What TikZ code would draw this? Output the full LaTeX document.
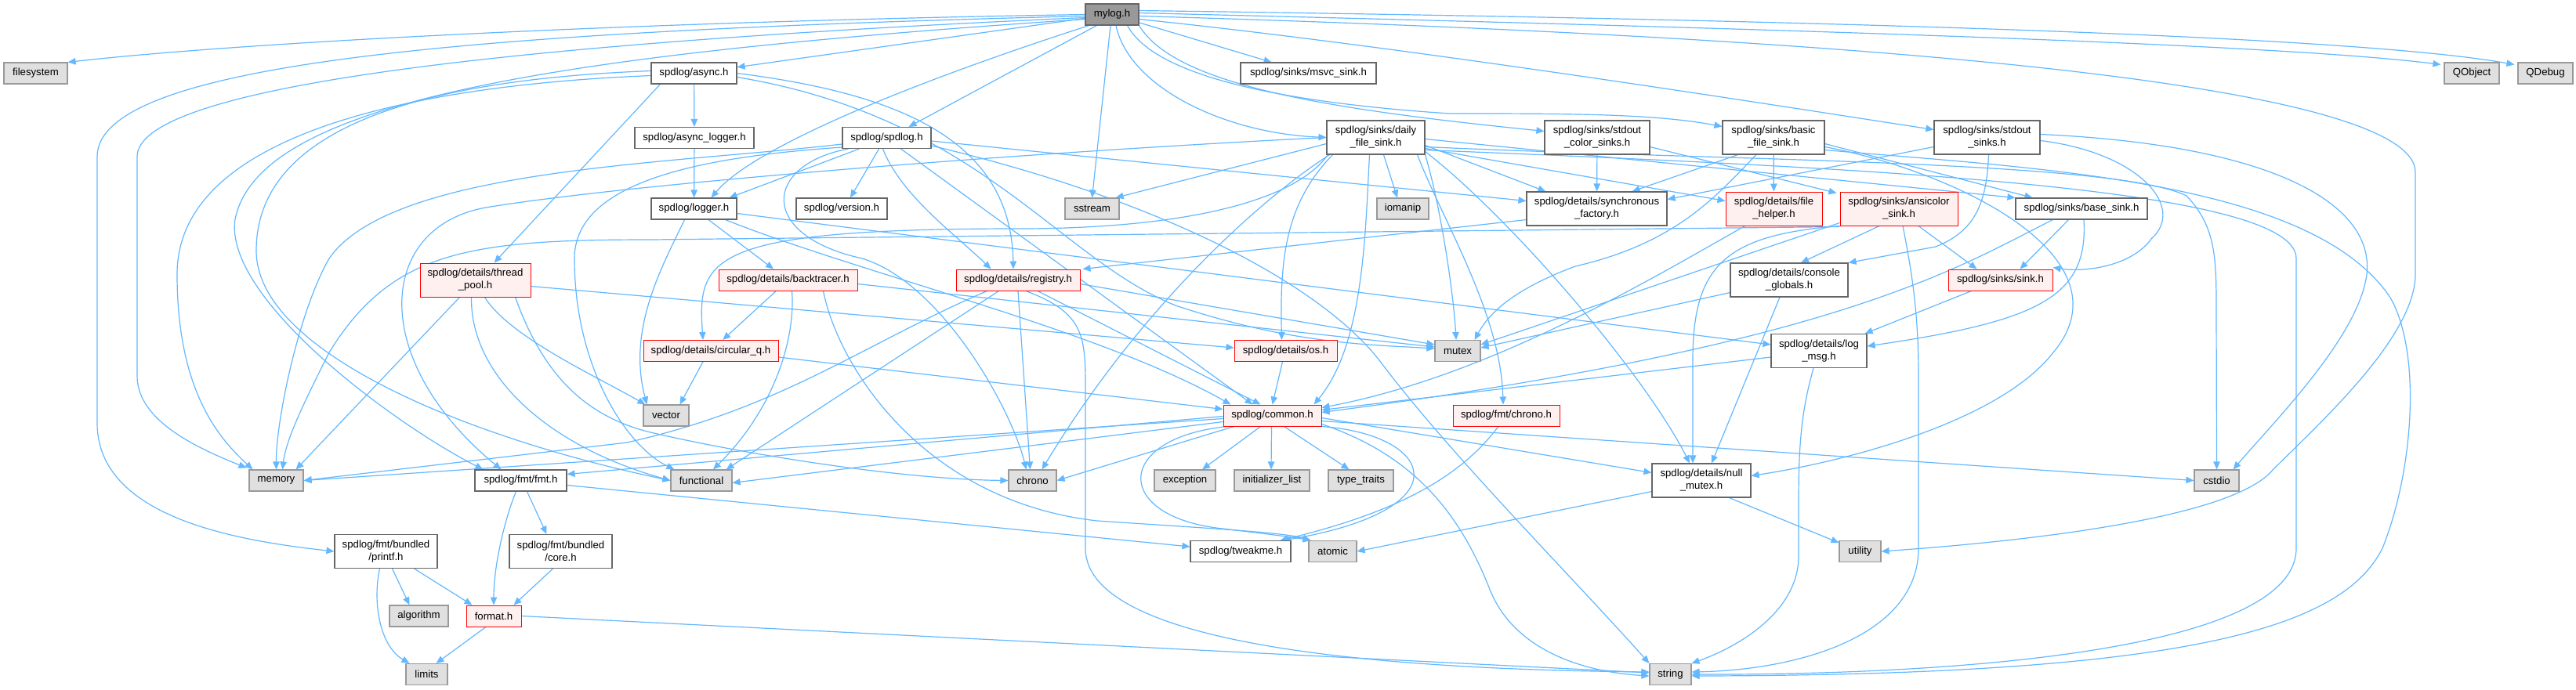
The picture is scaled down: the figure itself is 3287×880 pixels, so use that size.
\documentclass[tikz,border=0pt]{standalone}
\usepackage{fontspec}
\setmainfont{Liberation Sans}
\usetikzlibrary{arrows.meta,calc}
\definecolor{edgec}{HTML}{63B8FF}
\definecolor{sysfill}{HTML}{E0E0E0}
\definecolor{sysdraw}{HTML}{999999}
\definecolor{filegray}{HTML}{666666}
\definecolor{redfill}{HTML}{FFF0F0}
\definecolor{reddraw}{HTML}{FF0000}
\definecolor{rootfill}{HTML}{999999}
\newcommand{\dxfont}{\fontsize{6.6pt}{8pt}\selectfont}
\pgfdeclarelayer{bg}
\pgfsetlayers{bg,main}
\begin{document}
\begin{tikzpicture}[x=0.5pt,y=-0.5pt,
  base/.style={rectangle, inner sep=0pt, font=\dxfont, align=center, minimum height=13.5pt, line width=0.55pt, text=black},
  file/.style={base, draw=filegray, fill=white},
  sys/.style={base, draw=sysdraw, fill=sysfill},
  hot/.style={base, draw=reddraw, fill=redfill, line width=0.5pt},
  root/.style={base, draw=filegray, fill=rootfill},
  two/.style={minimum height=21.5pt},
  edg/.style={draw=edgec, line width=0.6pt, -{Triangle[length=5pt,width=4.2pt]}}]
\useasboundingbox (0,0) rectangle (3287,880);
% nodes
\node[root, minimum width=34pt] (mylog) at (1419,18.5) {mylog.h};
\node[sys, minimum width=40.5pt] (filesystem) at (45.5,93.5) {filesystem};
\node[file, minimum width=54.5pt] (async) at (885.5,93.5) {spdlog/async.h};
\node[file, minimum width=86.5pt] (msvc) at (1669.5,93.5) {spdlog/sinks/msvc\_sink.h};
\node[sys, minimum width=35pt] (QObject) at (3154,93.5) {QObject};
\node[sys, minimum width=35pt] (QDebug) at (3248,93.5) {QDebug};
\node[file, minimum width=76pt] (asynclogger) at (886,176) {spdlog/async\_logger.h};
\node[file, minimum width=56.5pt] (spdlog) at (1131.5,176) {spdlog/spdlog.h};
\node[file, two, minimum width=62.5pt] (daily) at (1755.5,175.5) {spdlog/sinks/daily\\\_file\_sink.h};
\node[file, two, minimum width=67pt] (stdoutcolor) at (2038,175.5) {spdlog/sinks/stdout\\\_color\_sinks.h};
\node[file, two, minimum width=65pt] (basic) at (2263,175.5) {spdlog/sinks/basic\\\_file\_sink.h};
\node[file, two, minimum width=67.5pt] (stdoutsinks) at (2535.5,175.5) {spdlog/sinks/stdout\\\_sinks.h};
\node[file, minimum width=54.5pt] (logger) at (885.5,266.5) {spdlog/logger.h};
\node[file, minimum width=58pt] (version) at (1074,266.5) {spdlog/version.h};
\node[sys, minimum width=34.5pt] (sstream) at (1393.5,266.5) {sstream};
\node[sys, minimum width=33pt] (iomanip) at (1790,266.5) {iomanip};
\node[file, two, minimum width=89.5pt] (sync) at (2037.5,266.5) {spdlog/details/synchronous\\\_factory.h};
\node[hot, two, minimum width=61.5pt] (filehelper) at (2263.5,266.5) {spdlog/details/file\\\_helper.h};
\node[hot, two, minimum width=75pt] (ansicolor) at (2423,266.5) {spdlog/sinks/ansicolor\\\_sink.h};
\node[file, minimum width=84pt] (basesink) at (2656,266.5) {spdlog/sinks/base\_sink.h};
\node[hot, two, minimum width=70.5pt] (threadpool) at (606.5,357.5) {spdlog/details/thread\\\_pool.h};
\node[hot, minimum width=88.5pt] (backtracer) at (1005.5,357.5) {spdlog/details/backtracer.h};
\node[hot, minimum width=79pt] (registry) at (1299,357.5) {spdlog/details/registry.h};
\node[file, two, minimum width=75pt] (console) at (2283,357.5) {spdlog/details/console\\\_globals.h};
\node[hot, minimum width=66.5pt] (sink) at (2552.5,357.5) {spdlog/sinks/sink.h};
\node[hot, minimum width=86pt] (circular) at (907,448) {spdlog/details/circular\_q.h};
\node[hot, minimum width=65.5pt] (os) at (1640.5,448) {spdlog/details/os.h};
\node[sys, minimum width=29pt] (mutex) at (1860,448) {mutex};
\node[file, two, minimum width=61pt] (logmsg) at (2321,448) {spdlog/details/log\\\_msg.h};
\node[sys, minimum width=29pt] (vector) at (850,530.5) {vector};
\node[hot, minimum width=62.5pt] (common) at (1623.5,530.5) {spdlog/common.h};
\node[hot, minimum width=68pt] (fmtchrono) at (1922,530.5) {spdlog/fmt/chrono.h};
\node[sys, minimum width=34.5pt] (memory) at (352.5,613.5) {memory};
\node[file, minimum width=58.5pt] (fmt) at (664.5,613.5) {spdlog/fmt/fmt.h};
\node[sys, minimum width=39pt] (functional) at (895,613.5) {functional};
\node[sys, minimum width=30.5pt] (chrono) at (1317.5,613.5) {chrono};
\node[sys, minimum width=39pt] (exception) at (1512,613.5) {exception};
\node[sys, minimum width=48pt] (initlist) at (1623,613.5) {initializer\_list};
\node[sys, minimum width=41.5pt] (typetraits) at (1736.5,613.5) {type\_traits};
\node[file, two, minimum width=63pt] (nullmutex) at (2171,613.5) {spdlog/details/null\\\_mutex.h};
\node[sys, minimum width=28.5pt] (cstdio) at (2828.5,613.5) {cstdio};
\node[file, two, minimum width=65.5pt] (printf) at (492.5,704) {spdlog/fmt/bundled\\/printf.h};
\node[file, two, minimum width=65.5pt] (core) at (715.5,704) {spdlog/fmt/bundled\\/core.h};
\node[file, minimum width=64pt] (tweakme) at (1583,704) {spdlog/tweakme.h};
\node[sys, minimum width=30.5pt] (atomic) at (1700.5,704) {atomic};
\node[sys, minimum width=26.5pt] (utility) at (2373.5,704) {utility};
\node[sys, minimum width=37.5pt] (algorithm) at (534.5,786.5) {algorithm};
\node[hot, minimum width=35pt] (format) at (630,786.5) {format.h};
\node[sys, minimum width=26.5pt] (limits) at (544.5,861) {limits};
\node[sys, minimum width=26.5pt] (string) at (2131.5,861) {string};
\begin{pgfonlayer}{bg}
\fill[white] (0,0) rectangle (3287,880);
% mylog
\draw[edg] (mylog.west) .. controls (800,28) and (300,55) .. (filesystem.north east);
\draw[edg] ($(mylog.west)+(0,2)$) .. controls (600,40) and (124,80) .. (124,200) -- (124,540) .. controls (124,660) and (300,690) .. (printf.west);
\draw[edg] ($(mylog.west)+(0,4)$) .. controls (650,55) and (175,110) .. (175,200) -- (175,480) .. controls (175,540) and (260,575) .. ($(memory.north west)+(-3,-2)$);
\draw[edg] ($(mylog.west)+(0,6)$) .. controls (700,70) and (330,130) .. (300,280) .. controls (285,380) and (500,540) .. ($(fmt.north west)+(11,0)$);
\draw[edg] (mylog) -- (async);
\draw[edg] ($(mylog.south west)+(5,0)$) .. controls (1150,110) and (960,190) .. ($(logger.north)+(22,0)$);
\draw[edg] ($(mylog.south west)+(15,0)$) -- ($(spdlog.north)+(28,0)$);
\draw[edg] ($(mylog.south)+(-2,0)$) -- (sstream.north);
\draw[edg] (mylog) -- (msvc);
\draw[edg] ($(mylog.south)+(5,0)$) .. controls (1440,110) and (1560,170) .. (daily.west);
\draw[edg] ($(mylog.south east)+(-15,0)$) .. controls (1480,110) and (1700,135) .. (1850,145) .. controls (2000,145) and (2110,145) .. ($(basic.west)+(0,-14)$);
\draw[edg] (mylog.south east) .. controls (1500,110) and (1700,140) .. ($(stdoutcolor.west)+(0,-8)$);
\draw[edg] ($(mylog.east)+(0,6)$) .. controls (1800,60) and (2300,140) .. ($(stdoutsinks.west)+(0,-10)$);
\draw[edg] ($(mylog.east)+(0,-2)$) .. controls (2200,35) and (2900,55) .. ($(QObject.north west)+(-4,3)$);
\draw[edg] ($(mylog.east)+(0,-5)$) .. controls (2300,25) and (3000,45) .. ($(QDebug.north west)+(-4,3)$);
\draw[edg] ($(mylog.east)+(0,2)$) .. controls (2300,45) and (3082,100) .. (3082,220) -- (3082,350) .. controls (3082,430) and (2960,540) .. (2900,600) .. controls (2850,660) and (2600,690) .. (utility.east);
% async
\draw[edg] (async) -- (asynclogger);
\draw[edg] (async.east) .. controls (1150,120) and (1290,180) .. ($(registry.north)+(-6,0)$);
\draw[edg] ($(async.south west)+(12,0)$) -- ($(threadpool.north)+(24,0)$);
\draw[edg] ($(async.west)+(0,3)$) .. controls (500,110) and (226,180) .. (226,350) .. controls (226,500) and (280,560) .. ($(memory.north west)+(5,0)$);
\draw[edg] ($(async.west)+(0,-3)$) .. controls (450,105) and (327,200) .. (327,320) .. controls (327,450) and (600,560) .. (functional.west);
\draw[edg] ($(async.east)+(0,5)$) .. controls (1250,150) and (1350,330) .. (1500,390) .. controls (1650,440) and (1750,440) .. ($(mutex.west)+(0,-3)$);
\draw[edg] (asynclogger) -- (logger);
% spdlog
\draw[edg] ($(spdlog.south west)+(22,0)$) -- ($(logger.north east)+(-10,0)$);
\draw[edg] ($(spdlog.south)+(-10,0)$) -- ($(version.north)+(11,0)$);
\draw[edg] ($(spdlog.south)+(-5,0)$) .. controls (1150,250) and (1220,300) .. ($(registry.north west)+(45,0)$);
\draw[edg] ($(spdlog.south)+(18,0)$) -- ($(common.north)+(-25,0)$);
\draw[edg] ($(spdlog.east)+(0,4)$) -- ($(sync.west)+(0,-10)$);
\draw[edg] ($(spdlog.east)+(0,10)$) .. controls (1500,260) and (1690,370) .. (1760,460) .. controls (1850,580) and (2000,730) .. (string.north west);
\draw[edg] ($(spdlog.south west)+(8,0)$) .. controls (975,210) and (965,300) .. (1100,330) .. controls (1200,360) and (1290,520) .. ($(chrono.north)+(-8,0)$);
\draw[edg] ($(spdlog.west)+(0,12)$) .. controls (900,200) and (733,230) .. (733,330) .. controls (733,470) and (800,570) .. ($(functional.north west)+(5,0)$);
\draw[edg] ($(spdlog.west)+(0,8)$) .. controls (850,210) and (500,215) .. (420,330) .. controls (380,400) and (352,540) .. (memory.north);
% logger
\draw[edg] (logger) -- (backtracer);
\draw[edg] ($(logger.south)+(-12,0)$) .. controls (845,340) and (800,420) .. ($(vector.north west)+(5,0)$);
\draw[edg] ($(logger.south east)+(-15,0)$) .. controls (1100,350) and (1400,420) .. ($(common.north west)+(10,0)$);
\draw[edg] ($(logger.east)+(0,6)$) -- ($(logmsg.west)+(0,-8)$);
% backtracer
\draw[edg] (backtracer) -- (circular);
\draw[edg] ($(backtracer.south)+(5,0)$) .. controls (1015,430) and (990,520) .. ($(functional.north)+(15,0)$);
\draw[edg] ($(backtracer.south)+(45,0)$) .. controls (1070,470) and (1180,640) .. (1400,665) .. controls (1550,675) and (1640,680) .. ($(atomic.north west)+(3,0)$);
\draw[edg] ($(backtracer.east)+(0,5)$) -- ($(mutex.west)+(0,-5)$);
% registry
\draw[edg] ($(registry.south)+(25,0)$) -- ($(common.north)+(-15,0)$);
\draw[edg] (registry.south) -- ($(chrono.north)+(-3,0)$);
\draw[edg] ($(registry.south west)+(55,0)$) -- ($(functional.north east)+(-8,0)$);
\draw[edg] ($(registry.south west)+(40,0)$) .. controls (1100,440) and (1000,520) .. (800,565) -- (memory.east);
\draw[edg] ($(registry.south)+(10,0)$) .. controls (1385,400) and (1385,430) .. (1385,500) -- (1385,700) .. controls (1385,830) and (1800,855) .. ($(string.west)+(0,-3)$);
\draw[edg] ($(registry.east)+(0,5)$) -- ($(mutex.west)+(0,-8)$);
% thread pool
\draw[edg] ($(threadpool.east)+(0,8)$) -- ($(os.west)+(0,-4)$);
\draw[edg] ($(threadpool.south)+(-20,0)$) -- ($(memory.north east)+(-10,0)$);
\draw[edg] ($(threadpool.south)+(-5,0)$) .. controls (600,480) and (700,570) .. (functional.west);
\draw[edg] ($(threadpool.south)+(12,0)$) .. controls (650,430) and (760,480) .. ($(vector.north west)+(3,0)$);
\draw[edg] ($(threadpool.south east)+(-20,0)$) .. controls (690,470) and (740,530) .. (830,552) .. controls (950,580) and (1150,612) .. (chrono.west);
% circular, os
\draw[edg] ($(circular.south)+(-10,0)$) -- ($(vector.north east)+(-12,0)$);
\draw[edg] ($(circular.east)+(0,8)$) -- ($(common.west)+(0,-8)$);
\draw[edg] ($(os.south)+(-4,0)$) -- (common.north);
% common
\draw[edg] ($(common.west)+(0,4)$) -- (memory.east);
\draw[edg] ($(common.west)+(0,8)$) -- ($(functional.east)+(0,3)$);
\draw[edg] ($(common.south west)+(14,0)$) -- (chrono.east);
\draw[edg] ($(common.west)+(0,1)$) -- ($(fmt.east)+(0,-8)$);
\draw[edg] ($(common.south)+(-15,0)$) -- ($(exception.north)+(22,0)$);
\draw[edg] ($(common.south)+(-1,0)$) -- ($(initlist.north)+(-1,0)$);
\draw[edg] ($(common.south)+(15,0)$) -- ($(typetraits.north)+(-15,0)$);
\draw[edg] ($(common.south west)+(5,0)$) .. controls (1420,560) and (1420,660) .. (1560,675) .. controls (1620,682) and (1650,686) .. ($(atomic.north west)+(3,0)$);
\draw[edg] (common.south east) .. controls (1830,555) and (1870,650) .. ($(tweakme.north east)+(-10,0)$);
\draw[edg] ($(common.east)+(0,3)$) -- ($(nullmutex.west)+(0,-10)$);
\draw[edg] ($(common.east)+(0,7)$) -- (cstdio.west);
\draw[edg] ($(common.east)+(0,11)$) .. controls (1800,580) and (1860,650) .. (1900,750) .. controls (1930,830) and (2020,858) .. ($(string.west)+(0,2)$);
% fmt family
\draw[edg] ($(fmt.south)+(8,0)$) -- ($(core.north)+(-18,0)$);
\draw[edg] ($(fmt.south)+(-6,0)$) .. controls (645,660) and (630,720) .. (format.north);
\draw[edg] ($(fmt.east)+(0,6)$) -- ($(tweakme.west)+(0,-6)$);
\draw[edg] ($(printf.south)+(8,0)$) -- ($(algorithm.north)+(-12,0)$);
\draw[edg] ($(printf.south east)+(-30,0)$) -- ($(format.north west)+(8,0)$);
\draw[edg] ($(printf.south)+(-8,0)$) .. controls (475,770) and (485,825) .. ($(limits.north west)+(5,0)$);
\draw[edg] ($(core.south)+(-10,0)$) -- ($(format.north east)+(-10,0)$);
\draw[edg] ($(format.south)+(-10,0)$) -- ($(limits.north)+(12,0)$);
\draw[edg] (format.east) -- ($(string.west)+(0,-2)$);
\draw[edg] ($(fmtchrono.south)+(-10,0)$) .. controls (1870,600) and (1800,650) .. ($(tweakme.north east)+(-14,0)$);
% null mutex, log msg
\draw[edg] ($(nullmutex.south west)+(0,-8)$) -- (atomic.east);
\draw[edg] ($(nullmutex.south east)+(-28,0)$) -- ($(utility.north west)+(0,3)$);
\draw[edg] ($(logmsg.west)+(0,8)$) -- ($(common.east)+(0,-7)$);
\draw[edg] ($(logmsg.south)+(-7,0)$) .. controls (2300,520) and (2295,560) .. (2295,640) -- (2295,710) .. controls (2295,780) and (2220,825) .. (string.north east);
% daily
\draw[edg] ($(daily.west)+(0,8)$) -- ($(sstream.north east)+(-5,0)$);
\draw[edg] ($(daily.south)+(10,0)$) -- ($(iomanip.north)+(-7,0)$);
\draw[edg] (daily.west) .. controls (1300,195) and (800,235) .. (620,265) .. controls (480,290) and (470,460) .. ($(fmt.north)+(-25,0)$);
\draw[edg] ($(daily.south)+(-8,0)$) .. controls (1742,300) and (1740,440) .. ($(common.north east)+(-10,0)$);
\draw[edg] ($(daily.south west)+(8,0)$) .. controls (1640,260) and (1633,330) .. ($(os.north)+(-5,0)$);
\draw[edg] ($(daily.south west)+(4,0)$) .. controls (1600,260) and (1450,400) .. ($(chrono.north)+(12,0)$);
\draw[edg] ($(daily.south west)+(2,0)$) .. controls (1650,260) and (1500,292) .. (1300,292) .. controls (900,292) and (890,330) .. ($(circular.north)+(-10,0)$);
\draw[edg] ($(daily.south east)+(-10,0)$) .. controls (1840,280) and (1915,400) .. ($(fmtchrono.north)+(-4,0)$);
\draw[edg] (daily.south east) .. controls (1840,270) and (1855,380) .. ($(mutex.north)+(-2,0)$);
\draw[edg] ($(daily.east)+(0,18)$) .. controls (1930,280) and (2100,480) .. ($(nullmutex.north)+(-15,0)$);
\draw[edg] ($(daily.east)+(0,10)$) -- ($(sync.north west)+(25,0)$);
\draw[edg] ($(daily.east)+(0,14)$) -- ($(filehelper.west)+(0,-10)$);
\draw[edg] ($(daily.east)+(0,2)$) -- (basesink.north west);
\draw[edg] ($(daily.east)+(0,12)$) .. controls (2200,205) and (2700,205) .. (2790,250) .. controls (2828,290) and (2828,330) .. (2828,400) -- (cstdio.north);
\draw[edg] ($(daily.east)+(0,16)$) .. controls (2400,215) and (2930,240) .. (2930,330) -- (2930,700) .. controls (2930,830) and (2500,862) .. (string.east);
% stdout color
\draw[edg] (stdoutcolor) -- (sync);
\draw[edg] ($(stdoutcolor.east)+(0,12)$) -- ($(ansicolor.north west)+(-4,2)$);
% basic
\draw[edg] ($(basic.south west)+(20,0)$) -- ($(sync.north east)+(-45,0)$);
\draw[edg] (basic) -- (filehelper);
\draw[edg] ($(basic.south)+(-22,0)$) .. controls (2190,250) and (2140,310) .. (2010,340) .. controls (1930,370) and (1900,400) .. ($(mutex.north east)+(-8,0)$);
\draw[edg] ($(basic.east)+(0,8)$) -- ($(basesink.north west)+(22,0)$);
\draw[edg] ($(basic.east)+(0,12)$) .. controls (2500,220) and (2720,330) .. (2620,450) .. controls (2550,540) and (2350,590) .. ($(nullmutex.east)+(0,-6)$);
\draw[edg] ($(basic.east)+(0,16)$) .. controls (2600,215) and (2950,230) .. (3050,380) .. controls (3090,450) and (3080,600) .. (3040,700) .. controls (2990,800) and (2800,862) .. ($(string.east)+(0,2)$);
% stdout sinks
\draw[edg] ($(stdoutsinks.west)+(0,12)$) -- ($(sync.east)+(0,-12)$);
\draw[edg] ($(stdoutsinks.south)+(2,0)$) .. controls (2535,260) and (2520,295) .. (2470,315) -- (console.north east);
\draw[edg] ($(stdoutsinks.east)+(0,4)$) .. controls (2730,195) and (2790,265) .. (2745,305) .. controls (2720,340) and (2660,348) .. ($(sink.north east)+(0,-2)$);
\draw[edg] ($(stdoutsinks.east)+(0,-4)$) .. controls (2900,185) and (3030,260) .. (3020,350) .. controls (3010,430) and (2900,540) .. ($(cstdio.north east)+(-8,0)$);
% ansicolor
\draw[edg] ($(ansicolor.south)+(-25,0)$) -- ($(console.north)+(15,0)$);
\draw[edg] ($(ansicolor.south)+(25,0)$) -- ($(sink.north)+(-30,0)$);
\draw[edg] (ansicolor.south west) .. controls (2200,300) and (2160,340) .. (2160,460) -- ($(nullmutex.north)+(-11,0)$);
\draw[edg] ($(ansicolor.south west)+(0,-4)$) -- ($(mutex.east)+(0,-8)$);
\draw[edg] ($(ansicolor.south west)+(0,1)$) -- (830,306) .. controls (600,306) and (500,320) .. (420,450) .. controls (390,510) and (365,560) .. ($(memory.north)+(8,0)$);
\draw[edg] ($(ansicolor.south)+(5,0)$) .. controls (2440,350) and (2448,400) .. (2448,480) -- (2448,700) .. controls (2448,810) and (2300,855) .. ($(string.east)+(0,-3)$);
% console, file helper
\draw[edg] ($(console.south)+(-12,0)$) -- ($(nullmutex.north)+(13,0)$);
\draw[edg] ($(console.south west)+(0,-6)$) -- ($(mutex.east)+(0,-4)$);
\draw[edg] ($(filehelper.south west)+(25,0)$) .. controls (2100,360) and (1900,480) .. ($(common.east)+(0,-10)$);
% base sink, sink, sync
\draw[edg] ($(basesink.south west)+(68,0)$) -- ($(sink.north east)+(-42,0)$);
\draw[edg] ($(basesink.south west)+(48,0)$) .. controls (2500,340) and (2350,440) .. ($(common.east)+(0,-4)$);
\draw[edg] ($(basesink.south)+(3,0)$) .. controls (2665,380) and (2600,410) .. ($(logmsg.east)+(0,-6)$);
\draw[edg] ($(sink.south west)+(30,0)$) -- ($(logmsg.north east)+(-3,0)$);
\draw[edg] ($(sync.south west)+(0,-8)$) -- ($(registry.north east)+(3,0)$);
\end{pgfonlayer}
\end{tikzpicture}
\end{document}
